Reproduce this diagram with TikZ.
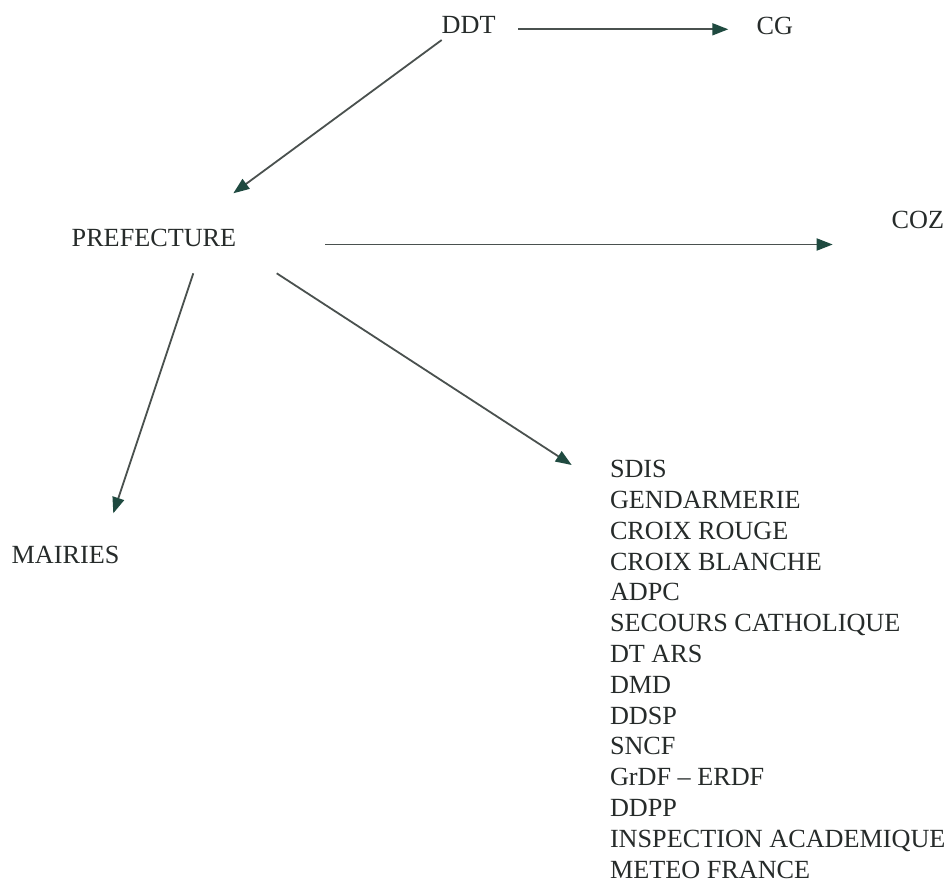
\documentclass[tikz,border=0pt]{standalone}
\usepackage{fontspec}
\setmainfont{Liberation Serif}
\usetikzlibrary{arrows.meta,calc}
\definecolor{txtcol}{HTML}{262B2A}
\definecolor{linecol}{HTML}{4A514F}
\definecolor{tipcol}{HTML}{1F4A40}
\tikzset{
  lbl/.style={inner sep=0pt, outer sep=0pt, text=txtcol, font=\fontsize{26.2}{30.8}\selectfont, anchor=base west},
  arr/.style={draw=linecol, line width=1.8pt, -{Triangle[length=16pt,width=12pt,color=tipcol]}}
}
\begin{document}
\begin{tikzpicture}[x=1pt,y=-1pt]
\useasboundingbox[fill=white] (0,0) rectangle (950,883);
\node[lbl] (DDT) at (441.7,33.5) {DDT};
\node[lbl] (CG) at (756.7,34.5) {CG};
\node[lbl] (PREF) at (71.7,246) {PREFECTURE};
\node[lbl] (COZ) at (891.7,228) {COZ};
\node[lbl] (MAIR) at (11.7,563.3) {MAIRIES};
\node[lbl, anchor=north west, align=left] (LIST) at (610,460.3) {SDIS\\GENDARMERIE\\CROIX ROUGE\\CROIX BLANCHE\\ADPC\\SECOURS CATHOLIQUE\\DT ARS\\DMD\\DDSP\\SNCF\\GrDF – ERDF\\DDPP\\INSPECTION ACADEMIQUE\\METEO FRANCE};
\draw[arr] ($(DDT.base west)+(76.6,-4.2)$) -- ($(CG.base west)+(-28.4,-5.2)$);
\draw[arr] ($(DDT.base west)+(0,6.5)$) -- ($(PREF.base west)+(161.6,-52.7)$);
\draw[arr] ($(PREF.base west)+(253.3,-1.5)$) -- ($(COZ.base west)+(-59,16.5)$);
\draw[arr] ($(PREF.base west)+(121.6,27.3)$) -- ($(MAIR.base west)+(101.6,-50)$);
\draw[arr] ($(PREF.base west)+(205,27.3)$) -- ($(LIST.north west)+(-38.3,4.7)$);
\end{tikzpicture}
\end{document}
